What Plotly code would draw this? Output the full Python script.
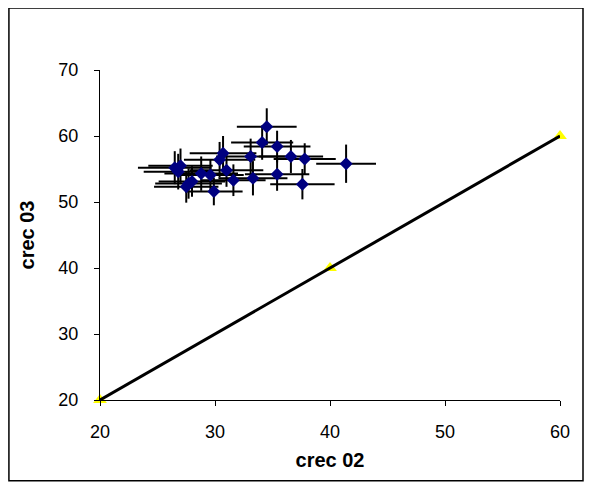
import plotly.graph_objects as go

# Data series: crec 02 (x) vs crec 03 (y) with error estimates
crec02 = [34.5, 34.1, 35.4, 36.6, 37.8, 41.4, 33.1, 35.4, 37.6, 33.3, 31.6, 31.0,
          30.7, 30.4, 29.9, 29.6, 28.8, 28.0, 27.5, 26.8, 26.5, 27.0, 27.7]
crec03 = [61.4, 59.0, 58.4, 56.9, 56.5, 55.8, 56.9, 54.2, 52.7, 53.6, 53.3, 54.8,
          57.4, 56.4, 51.6, 54.1, 54.3, 53.1, 52.3, 54.6, 55.2, 55.5, 52.8]
err_x = [2.6, 2.7, 2.9, 2.8, 2.7, 2.6, 3.0, 2.8, 2.8, 3.0, 2.8, 3.2,
         2.9, 3.1, 2.5, 2.9, 3.2, 2.9, 2.8, 3.0, 3.2, 2.8, 2.9]
err_y = [2.8, 2.6, 2.4, 2.5, 2.4, 2.9, 2.7, 2.5, 2.3, 2.6, 2.4, 2.5,
         2.6, 2.7, 2.1, 2.4, 2.6, 2.3, 2.4, 2.7, 2.5, 2.6, 2.3]

# Reference line
line_x = [20, 40, 60]
line_y = [20, 40, 60]

x_ticks = [20, 30, 40, 50, 60]
y_ticks = [20, 30, 40, 50, 60, 70]

fig = go.Figure()
fig.add_trace(go.Scatter(
    x=crec02, y=crec03, mode="markers",
    marker=dict(color="#000080", size=10, symbol="diamond"),
    error_x=dict(type="data", array=err_x, color="black", thickness=2, width=0),
    error_y=dict(type="data", array=err_y, color="black", thickness=2, width=0),
    showlegend=False, cliponaxis=False))
fig.add_trace(go.Scatter(
    x=line_x, y=line_y, mode="markers",
    marker=dict(color="#FFFF00", size=12, symbol="triangle-up"),
    showlegend=False, cliponaxis=False))
fig.add_trace(go.Scatter(
    x=line_x, y=line_y, mode="lines",
    line=dict(color="black", width=3),
    showlegend=False, cliponaxis=False))

tick_font = dict(family="Liberation Sans, Arial, sans-serif", size=18, color="black")
title_font = dict(family="Liberation Sans, Arial, sans-serif", size=20, color="black")
fig.update_layout(
    width=585, height=478,
    margin=dict(l=92, r=33, t=62, b=86),
    paper_bgcolor="white", plot_bgcolor="white",
    font=tick_font,
    xaxis=dict(range=[20, 60], tickvals=x_ticks, showgrid=False, zeroline=False,
               showline=True, linecolor="black", linewidth=1,
               ticks="outside", ticklen=5, tickcolor="black",
               tickfont=tick_font, ticklabelstandoff=10,
               title=dict(text="<b>crec 02</b>", standoff=12, font=title_font)),
    yaxis=dict(range=[20, 70], tickvals=y_ticks, showgrid=False, zeroline=False,
               showline=True, linecolor="black", linewidth=1,
               ticks="outside", ticklen=5, tickcolor="black",
               tickfont=tick_font, ticklabelstandoff=12,
               title=dict(text="<b>crec 03</b>", standoff=18, font=title_font)),
    shapes=[dict(type="rect", xref="paper", yref="paper",
                 x0=-0.198, x1=1.05, y0=-0.245, y1=1.188,
                 line=dict(color="black", width=1.5), fillcolor="rgba(0,0,0,0)")],
)

fig.write_html("out.html")
